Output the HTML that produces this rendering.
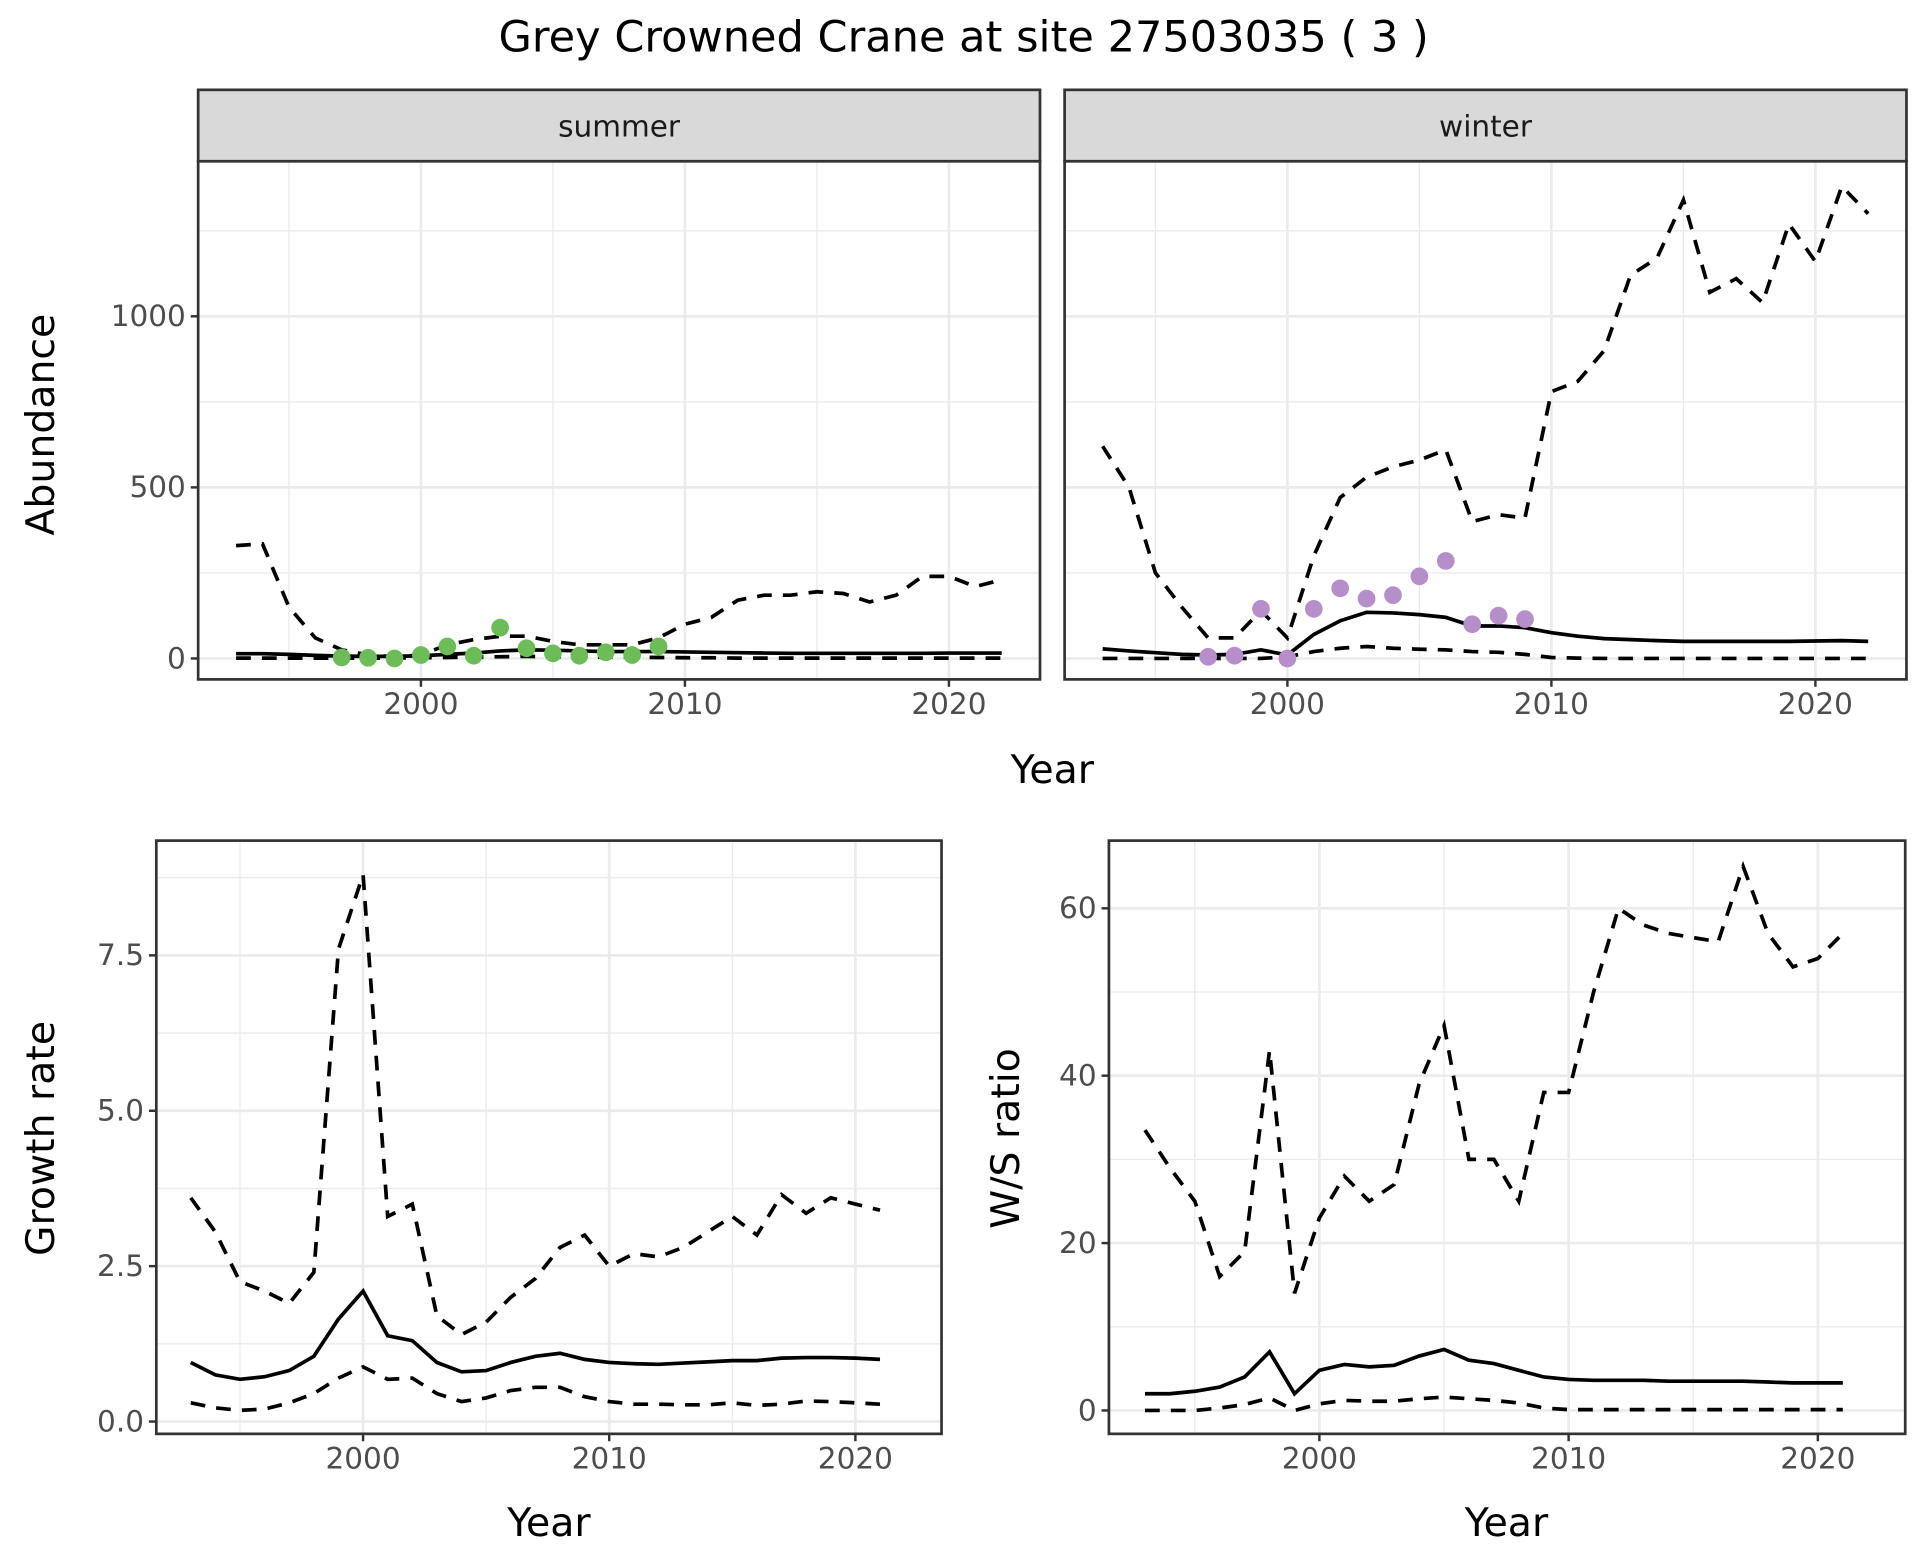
<!DOCTYPE html>
<html><head><meta charset="utf-8"><style>
html,body{margin:0;padding:0;background:#fff;}
svg{display:block;}
text{font-family:"DejaVu Sans","Liberation Sans",sans-serif;}
</style></head><body>
<svg id="s" width="1920" height="1560" viewBox="0 0 1560 1267.5" xmlns="http://www.w3.org/2000/svg"></svg>
<script>
const S=document.getElementById('s');let h='';
function rng(a,b){let r=[];for(let i=a;i<=b;i++)r.push(i);return r;}
function line(xs,ys,fx,fy,dash,w){let d=xs.map((x,i)=>(i?'L':'M')+fx(x).toFixed(1)+','+fy(ys[i]).toFixed(1)).join('');
h+=`<path d="${d}" fill="none" stroke="#000" stroke-width="${w||3}" ${dash?'stroke-dasharray="12,9"':''}/>`;}
function panel(x0,x1,y0,y1,fx,fy,xmaj,xmin,ymaj,ymin,ylabels){
 h+=`<rect x="${x0}" y="${y0}" width="${x1-x0}" height="${y1-y0}" fill="#fff"/>`;
 xmin.forEach(v=>h+=`<line x1="${fx(v)}" x2="${fx(v)}" y1="${y0}" y2="${y1}" stroke="#ebebeb" stroke-width="1.1"/>`);
 ymin.forEach(v=>h+=`<line y1="${fy(v)}" y2="${fy(v)}" x1="${x0}" x2="${x1}" stroke="#ebebeb" stroke-width="1.1"/>`);
 xmaj.forEach(v=>h+=`<line x1="${fx(v)}" x2="${fx(v)}" y1="${y0}" y2="${y1}" stroke="#ebebeb" stroke-width="2.2"/>`);
 ymaj.forEach(v=>h+=`<line y1="${fy(v)}" y2="${fy(v)}" x1="${x0}" x2="${x1}" stroke="#ebebeb" stroke-width="2.2"/>`);
 xmaj.forEach(v=>{h+=`<line x1="${fx(v)}" x2="${fx(v)}" y1="${y1}" y2="${y1+6}" stroke="#333" stroke-width="2"/><text x="${fx(v)}" y="${y1+28}" font-size="24" fill="#4d4d4d" text-anchor="middle">${v}</text>`;});
 if(ylabels) ymaj.forEach((v,i)=>{h+=`<line x1="${x0-6}" x2="${x0}" y1="${fy(v)}" y2="${fy(v)}" stroke="#333" stroke-width="2"/><text x="${x0-10}" y="${fy(v)+8}" font-size="24" fill="#4d4d4d" text-anchor="end">${ylabels[i]}</text>`;});
}
function frame(x0,x1,y0,y1){h+=`<rect x="${x0}" y="${y0}" width="${x1-x0}" height="${y1-y0}" fill="none" stroke="#333" stroke-width="2.2"/>`;}
h+=`<text x="783" y="42" font-size="35" text-anchor="middle">Grey Crowned Crane at site 27503035 ( 3 )</text>`;
const yA=v=>535-v*0.278;
const Y1=rng(1993,2022);
const sumU=[330,335,150,60,25,10,5,10,40,55,65,65,50,40,40,40,60,100,120,170,185,185,195,190,165,185,240,240,210,230];
const sumM=[14,14,12,9,7,6,6,8,12,16,22,25,24,22,20,20,20,19,18,17,16,15,15,15,15,15,15,16,16,16];
const sumL=[1,1,1,1,1,1,1,2,3,4,5,6,5,5,4,4,3,2,2,1,1,1,1,1,1,1,1,1,1,1];
const sp=[[1997,3],[1998,2],[1999,0],[2000,10],[2001,35],[2002,8],[2003,90],[2004,30],[2005,15],[2006,8],[2007,18],[2008,10],[2009,35]];
const winU=[620,500,250,150,60,60,140,60,300,470,530,560,580,610,400,420,410,780,810,900,1120,1170,1340,1070,1110,1040,1270,1160,1380,1300];
const winM=[28,22,17,12,10,12,25,10,70,110,135,133,128,120,95,95,90,75,65,58,55,52,50,50,50,50,50,51,52,50];
const winL=[0,0,0,0,0,0,0,5,20,30,35,30,27,25,20,18,12,3,1,0,0,0,0,0,0,0,0,0,0,0];
const wp=[[1997,5],[1998,8],[1999,145],[2000,0],[2001,145],[2002,205],[2003,175],[2004,185],[2005,240],[2006,285],[2007,100],[2008,125],[2009,115]];
[[161,845,'summer',sumU,sumM,sumL,sp,'#6cbd57',true],[865,1549,'winter',winU,winM,winL,wp,'#b68fca',false]].forEach(p=>{
 const x0=p[0],x1=p[1],base=x0+181;const fx=v=>base+(v-2000)*21.45;
 panel(x0,x1,131,552,fx,yA,[2000,2010,2020],[1995,2005,2015],[0,500,1000],[250,750,1250],p[8]?['0','500','1000']:null);
 line(Y1,p[3],fx,yA,true);line(Y1,p[4],fx,yA,false);line(Y1,p[5],fx,yA,true);
 p[6].forEach(q=>h+=`<circle cx="${fx(q[0])}" cy="${yA(q[1])}" r="7.2" fill="${p[7]}"/>`);
 frame(x0,x1,131,552);
 h+=`<rect x="${x0}" y="73" width="${x1-x0}" height="58" fill="#d9d9d9" stroke="#333" stroke-width="2.2"/><text x="${(x0+x1)/2}" y="111" font-size="24" fill="#1a1a1a" text-anchor="middle">${p[2]}</text>`;
});
h+=`<text transform="translate(44,345) rotate(-90)" font-size="32" text-anchor="middle">Abundance</text>`;
h+=`<text x="855" y="636" font-size="32" text-anchor="middle">Year</text>`;
const Y2=rng(1993,2021);
const gU=[3.6,3.05,2.25,2.1,1.9,2.4,7.6,8.8,3.3,3.5,1.7,1.4,1.6,2.0,2.3,2.8,3.0,2.5,2.7,2.65,2.8,3.05,3.3,3.0,3.65,3.35,3.6,3.5,3.4];
const gM=[0.95,0.75,0.68,0.72,0.82,1.05,1.65,2.1,1.38,1.3,0.95,0.8,0.82,0.95,1.05,1.1,1.0,0.95,0.93,0.92,0.94,0.96,0.98,0.98,1.02,1.03,1.03,1.02,1.0];
const gL=[0.3,0.22,0.18,0.2,0.3,0.45,0.7,0.88,0.68,0.7,0.45,0.32,0.38,0.5,0.55,0.55,0.4,0.32,0.28,0.28,0.27,0.27,0.3,0.26,0.28,0.33,0.32,0.3,0.28];
{const fx=v=>295+(v-2000)*20,fy=v=>1155-v*50.5;
panel(127,765,683,1165,fx,fy,[2000,2010,2020],[1995,2005,2015],[0,2.5,5,7.5],[1.25,3.75,6.25,8.75],['0.0','2.5','5.0','7.5']);
line(Y2,gU,fx,fy,true);line(Y2,gM,fx,fy,false);line(Y2,gL,fx,fy,true);frame(127,765,683,1165);}
h+=`<text transform="translate(44,925) rotate(-90)" font-size="32" text-anchor="middle">Growth rate</text>`;
h+=`<text x="446" y="1248" font-size="32" text-anchor="middle">Year</text>`;
const rU=[33.5,29,25,16,19,43,14,23,28,25,27,39,46,30,30,25,38,38,50,60,58,57,56.5,56,65,57,53,54,57];
const rM=[2,2,2.3,2.8,4,7,2,4.8,5.5,5.2,5.4,6.5,7.3,6,5.6,4.8,4,3.7,3.6,3.6,3.6,3.5,3.5,3.5,3.5,3.4,3.3,3.3,3.3];
const rL=[0,0,0,0.3,0.7,1.5,0,0.8,1.2,1.1,1.1,1.4,1.6,1.4,1.2,0.9,0.3,0.1,0.1,0.1,0.1,0.1,0.1,0.1,0.1,0.1,0.1,0.1,0.1];
{const fx=v=>1072+(v-2000)*20.25,fy=v=>1146-v*6.8;
panel(901,1548,683,1165,fx,fy,[2000,2010,2020],[1995,2005,2015],[0,20,40,60],[10,30,50],['0','20','40','60']);
line(Y2,rU,fx,fy,true);line(Y2,rM,fx,fy,false);line(Y2,rL,fx,fy,true);frame(901,1548,683,1165);}
h+=`<text transform="translate(828,925) rotate(-90)" font-size="32" text-anchor="middle">W/S ratio</text>`;
h+=`<text x="1224" y="1248" font-size="32" text-anchor="middle">Year</text>`;
S.innerHTML=h;
</script>
</body></html>
